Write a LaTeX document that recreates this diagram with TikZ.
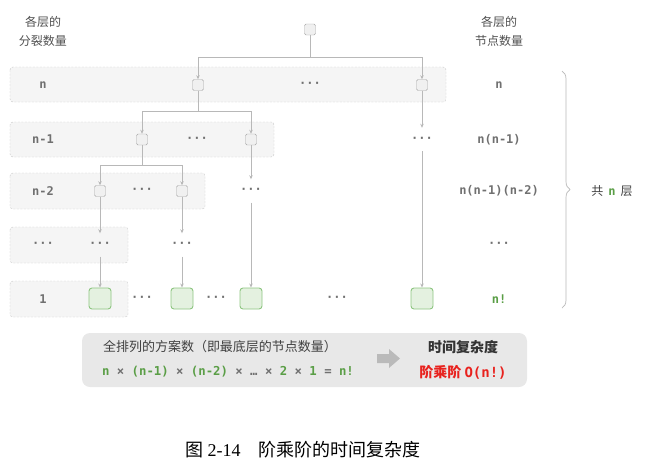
\documentclass[tikz,border=0pt]{standalone}
\usepackage{fontspec}
\setmainfont{Noto Sans CJK SC}
\newfontfamily\codefont{DejaVu Sans Mono}
\newfontfamily\capnum{Liberation Serif}
\usetikzlibrary{arrows.meta,decorations.pathreplacing}
\definecolor{lnk}{HTML}{B8B8B8}
\definecolor{txt}{HTML}{707070}
\definecolor{hdr}{HTML}{505050}
\definecolor{grn}{HTML}{5A9E46}
\definecolor{hired}{HTML}{E8221E}
\definecolor{gfill}{HTML}{E4F1E0}
\definecolor{gbord}{HTML}{8DC580}
\tikzset{
	band/.style={draw=black!22, dash pattern=on 2pt off 1.5pt, fill=black!4, rounded corners=3pt},
	sbox/.style={draw=black!35, fill=black!6, rounded corners=1.5pt, minimum size=11pt, inner sep=0pt},
	gbox/.style={draw=gbord, fill=gfill, line width=0.9pt, rounded corners=3pt, minimum width=22pt, minimum height=21pt, inner sep=0pt},
	dots/.style={minimum height=23pt, inner sep=0pt, text=txt, font=\codefont\bfseries\fontsize{12}{14}\selectfont},
	lbl/.style={text=txt, font=\codefont\bfseries\fontsize{12}{14}\selectfont},
	hd/.style={text=hdr, font=\fontsize{12}{14}\selectfont, align=center},
	link/.style={draw=lnk, line width=0.7pt},
	arr/.style={link, -{Stealth[length=4pt,width=3.5pt]}},
}

\begin{document}
\begin{tikzpicture}[x=1pt, y=-1pt]
	%%%%% START %%%%%
	\useasboundingbox (0,0) rectangle (649,467);
	
	% row bands
	\draw[band] (10,67) rectangle (446,102);
	\draw[band] (10,122) rectangle (274,157);
	\draw[band] (10,173) rectangle (205,209);
	\draw[band] (10,227) rectangle (128,263);
	\draw[band] (10,281) rectangle (128,317);
	
	% headers
	\node[hd] (hl1) at (43,22) {各层的};
	\node[hd] (hl2) at (43,41) {分裂数量};
	\node[hd] (hr1) at (499,22) {各层的};
	\node[hd] (hr2) at (499,41) {节点数量};
	
	% left labels
	\node[lbl] (l1) at (43,85) {n};
	\node[lbl] (l2) at (43,139.5) {n-1};
	\node[lbl] (l3) at (43,191) {n-2};
	\node[dots] (l4) at (43,245) {···};
	\node[lbl] (l5) at (43,299) {1};
	
	% tree
	\node[sbox] (r) at (310,29.5) {};
	\node[sbox] (a1) at (198,85) {};
	\node[dots] (ad) at (310,85) {···};
	\node[sbox] (a2) at (422,85) {};
	\node[sbox] (b1) at (142,139.5) {};
	\node[dots] (bm) at (197,139.5) {···};
	\node[sbox] (b2) at (251,139.5) {};
	\node[dots] (bd) at (422,139.5) {···};
	\node[sbox] (c1) at (100,191) {};
	\node[dots] (cm) at (142,191) {···};
	\node[sbox] (c2) at (182,191) {};
	\node[dots] (cd) at (251,191) {···};
	\node[dots] (d1) at (100,245) {···};
	\node[dots] (d2) at (182,245) {···};
	\node[gbox] (g1) at (100,298.5) {};
	\node[dots] (e1) at (142,298.5) {···};
	\node[gbox] (g2) at (182,298.5) {};
	\node[dots] (e2) at (216,298.5) {···};
	\node[gbox] (g3) at (251,298.5) {};
	\node[dots] (e3) at (337,298.5) {···};
	\node[gbox] (g4) at (422,298.5) {};
	
	\coordinate (j0) at (310,57);
	\coordinate (j1) at (198,111);
	\coordinate (j2) at (142,165);
	
	\draw[link] (r) -- (j0);
	\draw[arr] (j0) -| (a1);
	\draw[arr] (j0) -| (a2);
	\draw[link] (a1) -- (j1);
	\draw[arr] (j1) -| (b1);
	\draw[arr] (j1) -| (b2);
	\draw[arr] (a2) -- (bd);
	\draw[link] (b1) -- (j2);
	\draw[arr] (j2) -| (c1);
	\draw[arr] (j2) -| (c2);
	\draw[arr] (b2) -- (cd);
	\draw[arr] (bd) -- (g4);
	\draw[arr] (c1) -- (d1);
	\draw[arr] (c2) -- (d2);
	\draw[arr] (cd) -- (g3);
	\draw[arr] (d1) -- (g1);
	\draw[arr] (d2) -- (g2);
	
	% right labels
	\node[lbl] (n1) at (499,85) {n};
	\node[lbl] (n2) at (499,139.5) {n(n-1)};
	\node[lbl] (n3) at (499,191) {n(n-1)(n-2)};
	\node[dots] (n4) at (499,245) {···};
	\node[lbl, text=grn] (n5) at (499,299) {n!};
	
	\draw[lnk, line width=0.7pt, decorate, decoration={brace, amplitude=8pt}] (562,71) -- (562,308);
	\node[hd, text=black!75] (cnt) at (612,191) {共\hspace{5pt}\textcolor{grn}{\codefont\bfseries n}\hspace{5pt}层};
	
	% summary
	\draw[fill=black!9, draw=none, rounded corners=8pt] (82,333) rectangle (527,387);
	\node[text=black!75, font=\fontsize{13}{15}\selectfont] (s1) at (220,347) {全排列的方案数（即最底层的节点数量）};
	\node[text=txt, font=\codefont\bfseries\fontsize{12.3}{14}\selectfont] (s2) at (228,372)
		{\textcolor{grn}{n} × \textcolor{grn}{(n-1)} × \textcolor{grn}{(n-2)} × … × \textcolor{grn}{2} × \textcolor{grn}{1} = \textcolor{grn}{n!}};
	\fill[black!27] (377,354) -- (389,354) -- (389,349) -- (400,358.5) -- (389,368) -- (389,363) -- (377,363) -- cycle;
	\node[text=black!80, font=\bfseries\fontsize{14}{16}\selectfont] (t1) at (463,347) {时间复杂度};
	\node[text=hired, font=\bfseries\fontsize{14}{16}\selectfont] (t2) at (463,372) {阶乘阶 {\codefont O(n!)}};
	
	% caption
	\node[font=\fontsize{18}{20}\selectfont] (cap) at (303,450) {图 {\capnum 2-14}\quad 阶乘阶的时间复杂度};
	%%%%% END %%%%%
\end{tikzpicture}
\end{document}
